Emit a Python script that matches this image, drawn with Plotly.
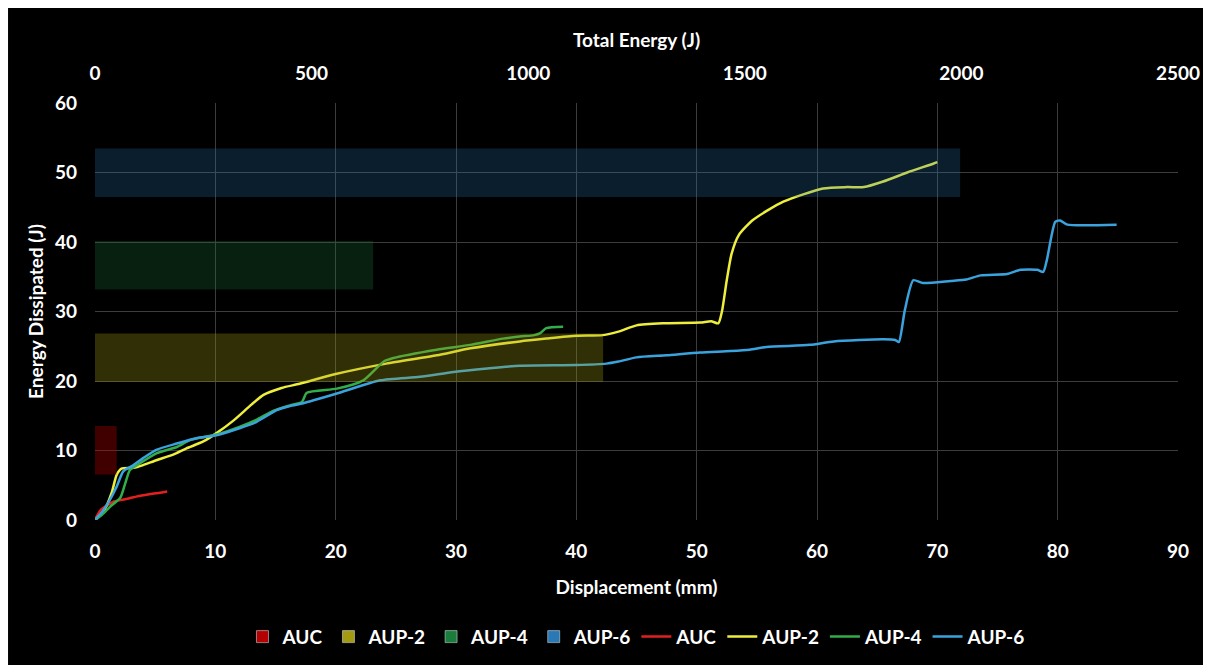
import plotly.graph_objects as go

# ---- Data ----
bar_names = ["AUC", "AUP-2", "AUP-4", "AUP-6"]
total_energy = [50, 1173, 642, 1997]          # J (top axis)
bar_category = ["Total"]

auc_disp = [0, 0.4, 1.0, 1.5, 2.2, 2.8, 3.5, 4.5, 5.3, 6.0]
auc_energy = [0, 1.3, 2.1, 2.6, 2.9, 3.1, 3.4, 3.7, 3.9, 4.1]

aup2_disp = [0, 0.8, 1.4, 1.8, 2.2, 3.2, 4.0, 5.1, 6.5, 7.6, 9.0, 10.1, 11.5, 13.0, 14.0,
             15.5, 17.0, 20.0, 24.2, 28.4, 31.2, 35.3, 37.5, 40.0, 42.2, 43.5, 45.0, 47.2,
             50.3, 51.2, 51.8, 52.1, 52.5, 52.9, 53.5, 54.7, 57.2, 60.5, 62.5, 63.9, 65.5,
             67.5, 69.7, 70.0]
aup2_energy = [0, 1.5, 4.0, 6.5, 7.4, 7.5, 7.9, 8.6, 9.4, 10.3, 11.3, 12.5, 14.3, 16.6, 18.0,
               19.0, 19.6, 21.0, 22.5, 23.7, 24.7, 25.7, 26.1, 26.5, 26.6, 27.1, 28.0, 28.3,
               28.4, 28.6, 28.3, 30.0, 34.5, 38.3, 41.0, 43.2, 45.8, 47.7, 47.9, 47.9, 48.7,
               50.0, 51.3, 51.5]

aup4_disp = [0, 0.6, 1.25, 2.1, 2.5, 2.9, 3.5, 5.1, 6.8, 7.9, 10.1, 12.0, 13.4, 14.8, 16.2,
             17.2, 17.6, 20.1, 22.3, 24.0, 24.8, 28.4, 31.2, 33.9, 35.3, 36.5, 37.0, 37.5, 38.9]
aup4_energy = [0, 0.8, 1.9, 3.2, 5.2, 7.2, 7.9, 9.6, 10.5, 11.5, 12.3, 13.4, 14.4, 15.7, 16.5,
               17.0, 18.3, 18.9, 20.1, 22.8, 23.3, 24.5, 25.2, 26.1, 26.4, 26.6, 26.9, 27.6, 27.8]

aup6_disp = [0, 0.6, 1.2, 1.8, 2.35, 3.2, 4.0, 5.1, 6.8, 8.5, 10.1, 12.0, 13.4, 15.1, 16.2,
             17.3, 20.1, 23.7, 27.0, 29.8, 32.6, 35.3, 40.0, 42.5, 43.5, 45.0, 47.5, 50.3,
             52.8, 54.4, 55.8, 59.4, 61.4, 65.5, 66.5, 66.8, 67.3, 68.0, 68.8, 71.1, 72.4,
             73.6, 75.8, 76.9, 78.3, 78.8, 79.1, 79.8, 80.2, 80.8, 84.9]
aup6_energy = [0, 1.2, 2.8, 4.8, 7.0, 7.9, 8.9, 10.1, 11.0, 11.8, 12.2, 13.2, 14.1, 15.8, 16.4,
               16.8, 18.2, 20.1, 20.6, 21.3, 21.8, 22.2, 22.3, 22.5, 22.8, 23.4, 23.7, 24.1,
               24.3, 24.5, 24.9, 25.2, 25.7, 26.0, 25.9, 25.6, 30.2, 34.5, 34.1, 34.4, 34.6,
               35.2, 35.4, 36.0, 36.0, 35.7, 37.4, 42.9, 43.1, 42.5, 42.5]

bottom_ticks = [0, 10, 20, 30, 40, 50, 60, 70, 80, 90]
top_ticks = [0, 500, 1000, 1500, 2000, 2500]
y_ticks = [0, 10, 20, 30, 40, 50, 60]

# ---- Styles ----
bar_solid = ["#b40000", "#a39a12", "#1b7d3c", "#2a79b4"]
bar_fill = ["rgba(180,0,0,0.36)", "rgba(163,154,18,0.30)", "rgba(27,125,60,0.26)",
            "rgba(42,121,180,0.25)"]
line_colors = ["#e2201f", "#eeee3c", "#33ad4a", "#3aa3de"]

FONT = "Lato"
fig = go.Figure()

# legend proxies for the bar series (solid swatches)
for name, col in zip(bar_names, bar_solid):
    fig.add_trace(go.Bar(x=[None], y=[None], name=name, marker_color=col,
                         xaxis="x", yaxis="y", showlegend=True))

# real horizontal bars on the top (Total Energy) axis
for name, val, col in zip(bar_names, total_energy, bar_fill):
    fig.add_trace(go.Bar(x=[val], y=bar_category, orientation="h", name=name,
                         marker=dict(color=col, line=dict(width=0)),
                         xaxis="x2", yaxis="y2", showlegend=False))

lines = [("AUC", auc_disp, auc_energy), ("AUP-2", aup2_disp, aup2_energy),
         ("AUP-4", aup4_disp, aup4_energy), ("AUP-6", aup6_disp, aup6_energy)]
for (name, xs, ys), col in zip(lines, line_colors):
    fig.add_trace(go.Scatter(x=xs, y=ys, mode="lines", name=name,
                             line=dict(color=col, width=2.5, shape="spline", smoothing=0.6),
                             xaxis="x", yaxis="y"))

tickfont = dict(family=FONT, size=19, color="white", weight="bold")
titlefont = dict(family=FONT, size=19, color="white", weight="bold")
grid = "#3c3c3c"

# the page body adds an 8px offset; the figure is sized/placed to compensate
fig.update_layout(
    width=1203, height=657,
    paper_bgcolor="white", plot_bgcolor="black",
    margin=dict(l=87, r=33, t=95, b=145, autoexpand=False),
    barmode="group", bargap=0.113, bargroupgap=0.474,
    showlegend=True,
    legend=dict(orientation="h", x=0.5, xanchor="center", y=-0.28, yanchor="middle",
                font=dict(family=FONT, size=19, color="white", weight="bold"),
                bgcolor="rgba(0,0,0,0)", traceorder="normal", itemwidth=30),
    xaxis=dict(range=[0, 90], tickvals=bottom_ticks, showgrid=True, gridcolor=grid,
               gridwidth=1, zeroline=False, showline=False, tickfont=tickfont,
               ticklabelstandoff=18, automargin=False,
               title=dict(text="Displacement (mm)", font=titlefont, standoff=19)),
    xaxis2=dict(range=[0, 2500], tickvals=top_ticks, overlaying="x", side="top",
                anchor="y2", showgrid=False, zeroline=False, showline=False,
                tickfont=tickfont, ticklabelstandoff=18, automargin=False,
                title=dict(text="Total Energy (J)", font=titlefont, standoff=8)),
    yaxis=dict(range=[0, 60], tickvals=y_ticks, showgrid=True, gridcolor=grid,
               gridwidth=1, zeroline=False, showline=False, tickfont=tickfont,
               ticklabelstandoff=17, automargin=False,
               title=dict(text="Energy Dissipated (J)", font=titlefont, standoff=6)),
    yaxis2=dict(type="category", overlaying="y", range=[-0.5, 0.5], visible=False,
                showgrid=False, fixedrange=True, automargin=False),
    shapes=[dict(type="rect", xref="paper", yref="paper", x0=-0.0803, x1=1.0286,
                 y0=-0.348, y1=1.228, fillcolor="black", line=dict(width=0), layer="below")],
)

fig.write_html("out.html")
